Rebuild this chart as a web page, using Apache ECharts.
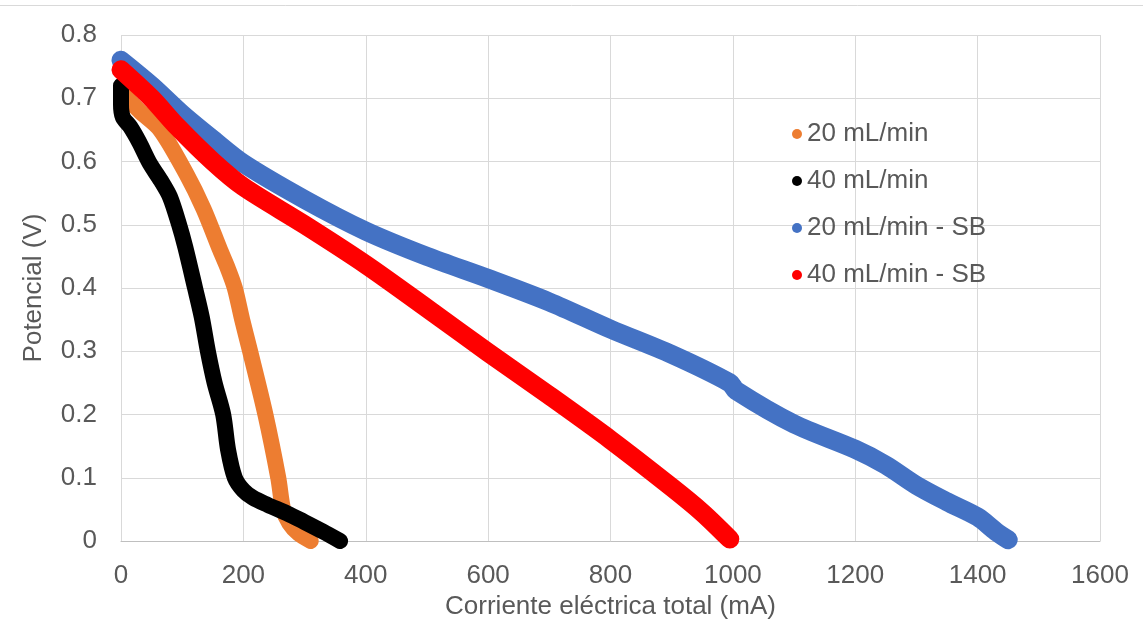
<!DOCTYPE html>
<html>
<head>
<meta charset="utf-8">
<title>Curvas de polarización</title>
<script src="https://cdn.jsdelivr.net/npm/echarts@6/dist/echarts.min.js"></script>
<style>
  html, body { margin: 0; padding: 0; background: #ffffff; }
  #chart { width: 1143px; height: 629px; }
</style>
</head>
<body>
<div id="chart"></div>
<script>
// Curvas de polarización: corriente total (mA) frente a potencial (V)
const seriesNames = ['20 mL/min', '40 mL/min', '20 mL/min - SB', '40 mL/min - SB'];

const xTicks = [0, 200, 400, 600, 800, 1000, 1200, 1400, 1600];
const yTicks = [0, 0.1, 0.2, 0.3, 0.4, 0.5, 0.6, 0.7, 0.8];

// 20 mL/min
const flow20 = [
  [0, 0.715], [3, 0.708], [30, 0.68], [64, 0.65], [107, 0.58], [135, 0.525],
  [162, 0.46], [175, 0.43], [186, 0.40], [198, 0.35], [211, 0.30], [236, 0.20],
  [257, 0.10], [265, 0.05], [275, 0.028], [290, 0.012], [310, 0.0]
];

// 40 mL/min
const flow40 = [
  [0, 0.72], [0, 0.69], [3, 0.67], [15, 0.655], [30, 0.63], [47, 0.597],
  [65, 0.57], [80, 0.544], [95, 0.50], [105, 0.465], [121, 0.40], [132, 0.354],
  [142, 0.30], [153, 0.25], [167, 0.20], [175, 0.144], [186, 0.10], [200, 0.08],
  [216, 0.068], [240, 0.057], [271, 0.044], [300, 0.03], [330, 0.015], [358, 0.0]
];

// 20 mL/min - SB
const flow20SB = [
  [0, 0.76], [50, 0.72], [100, 0.675], [150, 0.635], [200, 0.597], [300, 0.54],
  [400, 0.49], [500, 0.45], [600, 0.415], [700, 0.378], [800, 0.335], [900, 0.295],
  [995, 0.25], [1005, 0.238], [1100, 0.185], [1200, 0.145], [1250, 0.12],
  [1300, 0.088], [1350, 0.062], [1400, 0.038], [1430, 0.015], [1450, 0.002]
];

// 40 mL/min - SB
const flow40SB = [
  [0, 0.745], [50, 0.70], [92, 0.655], [150, 0.60], [200, 0.56], [300, 0.50],
  [400, 0.437], [500, 0.368], [600, 0.298], [700, 0.23], [800, 0.16],
  [900, 0.085], [950, 0.045], [995, 0.003]
];

const seriesData = [flow20, flow40, flow20SB, flow40SB];
const seriesColors = ['#ED7D31', '#000000', '#4472C4', '#FF0000'];
const seriesWidths = [16, 16, 19, 19];

const textColor = '#595959';
const fontFamily = '"Liberation Sans", Arial, sans-serif';

const chart = echarts.init(document.getElementById('chart'), null, { renderer: 'canvas' });

chart.setOption({
  animation: false,
  backgroundColor: '#ffffff',
  textStyle: { fontFamily: fontFamily },
  graphic: [{
    type: 'line',
    shape: { x1: 0, y1: 5.5, x2: 1143, y2: 5.5 },
    style: { stroke: '#d9d9d9', lineWidth: 1 },
    silent: true
  }],
  grid: { left: 121, right: 43, top: 35, bottom: 88, containLabel: false },
  legend: {
    orient: 'vertical',
    left: 787,
    top: 114,
    icon: 'circle',
    itemWidth: 10,
    itemHeight: 10,
    itemGap: 17,
    data: seriesNames,
    textStyle: { color: textColor, fontSize: 26, lineHeight: 30, fontFamily: fontFamily }
  },
  xAxis: {
    type: 'value',
    min: xTicks[0],
    max: xTicks[xTicks.length - 1],
    interval: xTicks[1] - xTicks[0],
    name: 'Corriente eléctrica total (mA)',
    nameLocation: 'middle',
    nameGap: 50,
    nameTextStyle: { color: textColor, fontSize: 26, fontFamily: fontFamily },
    axisLine: { show: true, lineStyle: { color: '#bfbfbf', width: 1 } },
    axisTick: { show: false },
    axisLabel: {
      color: textColor, fontSize: 26, margin: 22, fontFamily: fontFamily,
      formatter: function (v) { return String(Math.round(v)); }
    },
    splitLine: { show: true, lineStyle: { color: '#d9d9d9', width: 1 } }
  },
  yAxis: {
    type: 'value',
    min: yTicks[0],
    max: yTicks[yTicks.length - 1],
    interval: 0.1,
    name: 'Potencial (V)',
    nameLocation: 'middle',
    nameGap: 74,
    nameTextStyle: { color: textColor, fontSize: 26, fontFamily: fontFamily },
    axisLine: { show: false },
    axisTick: { show: false },
    axisLabel: {
      color: textColor, fontSize: 26, margin: 24, fontFamily: fontFamily,
      formatter: function (v) { return String(Math.round(v * 10) / 10); }
    },
    splitLine: { show: true, lineStyle: { color: '#d9d9d9', width: 1 } }
  },
  series: seriesNames.map(function (name, i) {
    return {
      name: name,
      type: 'line',
      data: seriesData[i],
      smooth: 0.3,
      showSymbol: false,
      symbol: 'circle',
      symbolSize: 10,
      color: seriesColors[i],
      itemStyle: { color: seriesColors[i] },
      lineStyle: { color: seriesColors[i], width: seriesWidths[i], cap: 'round', join: 'round' },
      z: 2 + i
    };
  })
});
</script>
</body>
</html>
